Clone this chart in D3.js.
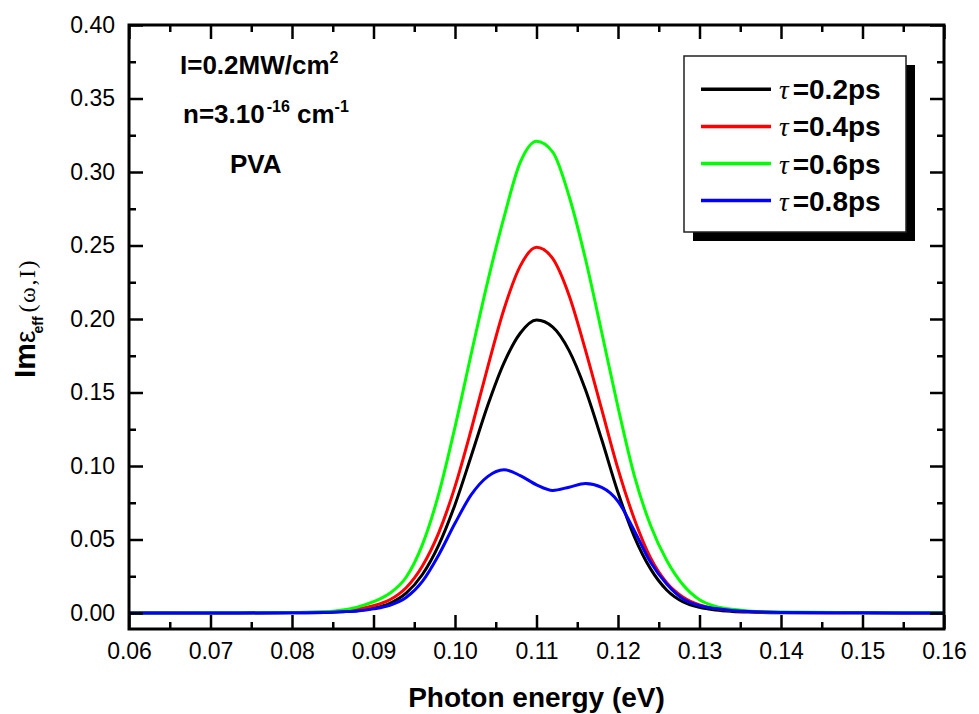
<!DOCTYPE html>
<html>
<head>
<meta charset="utf-8">
<script src="https://cdn.jsdelivr.net/npm/d3@7"></script>
<style>
  body { margin: 0; background: #fff; }
  svg { display: block; }
</style>
</head>
<body>
<svg id="chart" width="979" height="714"></svg>
<script>
// photon energy (eV)
const energy = [0.060, 0.070, 0.080, 0.084, 0.086, 0.088, 0.090, 0.092, 0.094, 0.096, 0.098,
  0.100, 0.102, 0.104, 0.106, 0.108, 0.110, 0.112, 0.114, 0.116, 0.118, 0.120, 0.122,
  0.124, 0.126, 0.128, 0.130, 0.132, 0.134, 0.136, 0.140, 0.150, 0.160];

// Im eps_eff for each relaxation time
const tau02 = [0.0000, 0.0000, 0.0002, 0.0004, 0.0008, 0.0016, 0.0033, 0.0066, 0.0135, 0.0262, 0.0462,
  0.0737, 0.1070, 0.1410, 0.1700, 0.1903, 0.1993, 0.1945, 0.1785, 0.1520, 0.1180, 0.0820, 0.0520,
  0.0300, 0.0155, 0.0075, 0.0038, 0.0020, 0.0011, 0.0006, 0.0002, 0.0001, 0.0000];
const tau04 = [0.0000, 0.0001, 0.0003, 0.0006, 0.0013, 0.0027, 0.0050, 0.0090, 0.0172, 0.0320, 0.0545,
  0.0860, 0.1250, 0.1670, 0.2065, 0.2360, 0.2488, 0.2410, 0.2160, 0.1790, 0.1385, 0.0980, 0.0640,
  0.0375, 0.0205, 0.0108, 0.0055, 0.0030, 0.0017, 0.0010, 0.0004, 0.0001, 0.0000];
const tau06 = [0.0000, 0.0001, 0.0003, 0.0008, 0.0018, 0.0040, 0.0077, 0.0134, 0.0243, 0.0465, 0.0810,
  0.1265, 0.1765, 0.2253, 0.2690, 0.3065, 0.3210, 0.3135, 0.2835, 0.2410, 0.1910, 0.1400, 0.0935,
  0.0595, 0.0355, 0.0190, 0.0090, 0.0045, 0.0025, 0.0014, 0.0006, 0.0002, 0.0001];
const tau08 = [0.0000, 0.0000, 0.0002, 0.0003, 0.0008, 0.0014, 0.0028, 0.0052, 0.0105, 0.0215, 0.0395,
  0.0610, 0.0805, 0.0928, 0.0975, 0.0935, 0.0872, 0.0834, 0.0856, 0.0881, 0.0855, 0.0760, 0.0560,
  0.0345, 0.0195, 0.0095, 0.0050, 0.0030, 0.0017, 0.0010, 0.0004, 0.0001, 0.0000];

const tauLabels = ["0.2", "0.4", "0.6", "0.8"];
const colors = ["#000000", "#ff0000", "#00ff00", "#0000ff"];

const xTicks = [0.06, 0.07, 0.08, 0.09, 0.10, 0.11, 0.12, 0.13, 0.14, 0.15, 0.16];
const xMinor = [0.065, 0.075, 0.085, 0.095, 0.105, 0.115, 0.125, 0.135, 0.145, 0.155];
const yTicks = [0.00, 0.05, 0.10, 0.15, 0.20, 0.25, 0.30, 0.35, 0.40];
const yMinor = [0.025, 0.075, 0.125, 0.175, 0.225, 0.275, 0.325, 0.375];

const sans = "'Liberation Sans', Arial, sans-serif";
const serif = "'Liberation Serif', 'Times New Roman', serif";

const svg = d3.select("#chart");

// plot frame
const pLeft = 129, pRight = 944, pTop = 25, pBottom = 629;

const x = d3.scaleLinear().domain([0.06, 0.16]).range([pLeft, pRight]);
const y = d3.scaleLinear().domain([0, 0.40]).range([613, pTop]);

svg.append("rect")
  .attr("x", pLeft).attr("y", pTop)
  .attr("width", pRight - pLeft).attr("height", pBottom - pTop)
  .attr("fill", "#fff");

// curves
const series = [tau02, tau04, tau06, tau08];
const line = d3.line()
  .x((d, i) => x(energy[i]))
  .y(d => y(d))
  .curve(d3.curveMonotoneX);

series.forEach((s, k) => {
  svg.append("path")
    .datum(s)
    .attr("d", line)
    .attr("fill", "none")
    .attr("stroke", colors[k])
    .attr("stroke-width", 3)
    .attr("stroke-linejoin", "round");
});

// axes (ticks inside on all four sides)
function styleAxis(g) {
  g.select(".domain").remove();
  g.selectAll(".tick line").attr("stroke", "#000").attr("stroke-width", 2.5);
  g.selectAll(".tick text")
    .attr("fill", "#000")
    .style("font-family", sans)
    .style("font-size", "23px");
}

svg.append("g").attr("transform", `translate(0,${pBottom})`)
  .call(d3.axisBottom(x).tickValues(xTicks).tickSizeInner(-14).tickSizeOuter(0)
    .tickPadding(14).tickFormat(d3.format(".2f")))
  .call(styleAxis);
svg.append("g").attr("transform", `translate(0,${pBottom})`)
  .call(d3.axisBottom(x).tickValues(xMinor).tickSizeInner(-7).tickSizeOuter(0).tickFormat(""))
  .call(styleAxis);
svg.append("g").attr("transform", `translate(0,${pTop})`)
  .call(d3.axisTop(x).tickValues(xTicks).tickSizeInner(-14).tickSizeOuter(0).tickFormat(""))
  .call(styleAxis);
svg.append("g").attr("transform", `translate(0,${pTop})`)
  .call(d3.axisTop(x).tickValues(xMinor).tickSizeInner(-7).tickSizeOuter(0).tickFormat(""))
  .call(styleAxis);

svg.append("g").attr("transform", `translate(${pLeft},0)`)
  .call(d3.axisLeft(y).tickValues(yTicks).tickSizeInner(-14).tickSizeOuter(0)
    .tickPadding(14).tickFormat(d3.format(".2f")))
  .call(styleAxis);
svg.append("g").attr("transform", `translate(${pLeft},0)`)
  .call(d3.axisLeft(y).tickValues(yMinor).tickSizeInner(-7).tickSizeOuter(0).tickFormat(""))
  .call(styleAxis);
svg.append("g").attr("transform", `translate(${pRight},0)`)
  .call(d3.axisRight(y).tickValues(yTicks).tickSizeInner(-14).tickSizeOuter(0).tickFormat(""))
  .call(styleAxis);
svg.append("g").attr("transform", `translate(${pRight},0)`)
  .call(d3.axisRight(y).tickValues(yMinor).tickSizeInner(-7).tickSizeOuter(0).tickFormat(""))
  .call(styleAxis);

svg.append("rect")
  .attr("x", pLeft).attr("y", pTop)
  .attr("width", pRight - pLeft).attr("height", pBottom - pTop)
  .attr("fill", "none")
  .attr("stroke", "#000")
  .attr("stroke-width", 3);

// axis titles
svg.append("text")
  .attr("x", (pLeft + pRight) / 2).attr("y", 707)
  .attr("text-anchor", "middle")
  .style("font-family", sans).style("font-size", "28px").style("font-weight", "bold")
  .text("Photon energy (eV)");

const yt = svg.append("text")
  .attr("transform", "translate(35,378) rotate(-90)")
  .style("font-family", sans);
yt.append("tspan").style("font-size", "30px").style("font-weight", "bold").text("Im");
yt.append("tspan").style("font-size", "28px").text("ε");
yt.append("tspan").attr("dy", 8).attr("dx", -3)
  .style("font-size", "14px").style("font-weight", "bold").text("eff");
yt.append("tspan").attr("dy", -8).attr("dx", 4)
  .style("font-family", serif).style("font-size", "24px").style("letter-spacing", "1.5px")
  .text("(ω,I)");

// annotations
const a1 = svg.append("text").attr("x", 180).attr("y", 74)
  .style("font-family", sans).style("font-weight", "bold").style("font-size", "26px");
a1.append("tspan").text("I=0.2MW/cm");
a1.append("tspan").attr("dy", -11).style("font-size", "16px").text("2");

const a2 = svg.append("text").attr("x", 183).attr("y", 123)
  .style("font-family", sans).style("font-weight", "bold").style("font-size", "26px");
a2.append("tspan").text("n=3.10");
a2.append("tspan").attr("dy", -11).attr("dx", 2).style("font-size", "16px").text("-16");
a2.append("tspan").attr("dy", 11).text(" cm");
a2.append("tspan").attr("dy", -11).style("font-size", "16px").text("-1");

svg.append("text").attr("x", 230).attr("y", 173)
  .style("font-family", sans).style("font-weight", "bold").style("font-size", "26px")
  .text("PVA");

// legend
const lg = { x: 684, y: 56, w: 222, h: 176 };
svg.append("rect")
  .attr("x", lg.x + 9).attr("y", lg.y + 9)
  .attr("width", lg.w).attr("height", lg.h)
  .attr("fill", "#000");
svg.append("rect")
  .attr("x", lg.x).attr("y", lg.y)
  .attr("width", lg.w).attr("height", lg.h)
  .attr("fill", "#fff")
  .attr("stroke", "#222")
  .attr("stroke-width", 1.5);

tauLabels.forEach((t, k) => {
  const ly = 89.3 + k * 37.1;
  svg.append("line")
    .attr("x1", 701).attr("x2", 771)
    .attr("y1", ly).attr("y2", ly)
    .attr("stroke", colors[k])
    .attr("stroke-width", 3.5);
  const lt = svg.append("text").attr("x", 779).attr("y", ly + 10);
  lt.append("tspan")
    .style("font-family", serif).style("font-style", "italic").style("font-size", "27px")
    .text("τ");
  lt.append("tspan").attr("dx", 4)
    .style("font-family", sans).style("font-weight", "bold").style("font-size", "28px")
    .text("=" + t + "ps");
});
</script>
</body>
</html>
